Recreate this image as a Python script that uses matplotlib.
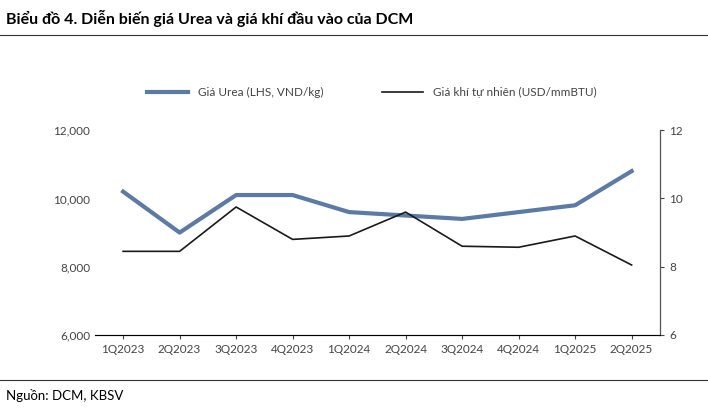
import matplotlib.pyplot as plt
from matplotlib.lines import Line2D

quarters = ["1Q2023", "2Q2023", "3Q2023", "4Q2023", "1Q2024", "2Q2024",
            "3Q2024", "4Q2024", "1Q2025", "2Q2025"]
urea = [10200, 9000, 10100, 10100, 9600, 9500, 9400, 9600, 9800, 10800]
gas = [8.45, 8.45, 9.75, 8.8, 8.9, 9.6, 8.6, 8.57, 8.9, 8.05]

plt.rcParams["font.family"] = "Lato"
fig = plt.figure(figsize=(7.08, 4.12), dpi=100)
ax = fig.add_axes([0.134, 0.187, 0.798, 0.497])
ax2 = ax.twinx()

ax.plot(quarters, urea, color="#5b7aa6", lw=3)
ax2.plot(quarters, gas, color="#1a1a1a", lw=1.2)

ax.set_ylim(6000, 12000)
ax.set_yticks([6000, 8000, 10000, 12000])
ax.set_yticklabels(["6,000", "8,000", "10,000", "12,000"])
ax2.set_ylim(6, 12)
ax2.set_yticks([6, 8, 10, 12])
ax.set_xlim(-0.5, 9.5)

for a in (ax, ax2):
    a.tick_params(labelsize=8.5, colors="#444444", length=3)
    a.spines["top"].set_visible(False)
    a.spines["left"].set_visible(False)
ax.tick_params(axis="y", length=0)
ax2.spines["right"].set_color("#555555")
ax.spines["bottom"].set_color("#555555")

handles = [Line2D([], [], color="#5b7aa6", lw=3),
           Line2D([], [], color="#1a1a1a", lw=1.2)]
fig.legend(handles, ["Giá Urea (LHS, VND/kg)", "Giá khí tự nhiên (USD/mmBTU)"],
           loc="center", bbox_to_anchor=(0.525, 0.775), ncol=2, frameon=False,
           fontsize=8.5, handlelength=3.5, columnspacing=5, labelcolor="#444444")

fig.text(0.008, 0.955, "Biểu đồ 4. Diễn biến giá Urea và giá khí đầu vào của DCM",
         fontsize=11.5, fontweight="bold", va="center")
fig.add_artist(Line2D([0, 1], [0.915, 0.915], color="#333333", lw=0.8))
fig.add_artist(Line2D([0, 1], [0.078, 0.078], color="#333333", lw=0.8))
fig.text(0.008, 0.04, "Nguồn: DCM, KBSV", fontsize=9.5, va="center")

fig.savefig("out.png", dpi=100)
